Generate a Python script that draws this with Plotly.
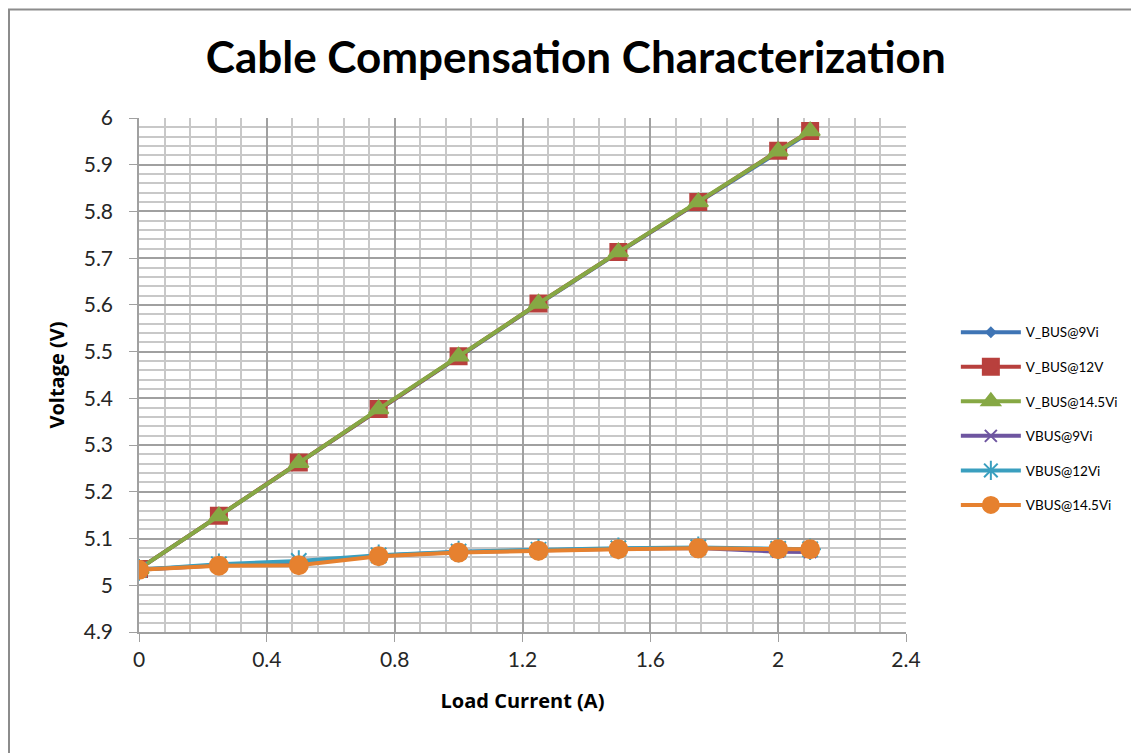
import plotly.graph_objects as go

load_current = [0, 0.25, 0.5, 0.75, 1.0, 1.25, 1.5, 1.75, 2.0, 2.1]

v_bus_9vi = [5.035, 5.148, 5.262, 5.376, 5.489, 5.602, 5.712, 5.819, 5.928, 5.970]
v_bus_12v = [5.035, 5.149, 5.263, 5.377, 5.490, 5.603, 5.713, 5.820, 5.930, 5.972]
v_bus_14_5vi = [5.035, 5.148, 5.262, 5.377, 5.490, 5.603, 5.713, 5.820, 5.929, 5.972]
vbus_9vi = [5.033, 5.043, 5.048, 5.063, 5.071, 5.075, 5.078, 5.080, 5.072, 5.071]
vbus_12vi = [5.033, 5.045, 5.052, 5.064, 5.072, 5.076, 5.079, 5.081, 5.078, 5.077]
vbus_14_5vi = [5.033, 5.042, 5.043, 5.062, 5.070, 5.074, 5.077, 5.079, 5.077, 5.077]

series_names = ["V_BUS@9Vi", "V_BUS@12V", "V_BUS@14.5Vi", "VBUS@9Vi", "VBUS@12Vi", "VBUS@14.5Vi"]
series_values = [v_bus_9vi, v_bus_12v, v_bus_14_5vi, vbus_9vi, vbus_12vi, vbus_14_5vi]
colors = ["#3F75B5", "#B8403D", "#86A844", "#6E55A0", "#3A9FBF", "#E6812F"]
symbols = ["diamond", "square", "triangle-up", "x-thin-open", "asterisk-open", "circle"]
sizes = [7, 16, 17, 12, 18, 18]

fig = go.Figure()
for i, (name, vals) in enumerate(zip(series_names, series_values)):
    fig.add_trace(go.Scatter(
        x=load_current, y=vals, name=name, mode="lines+markers",
        line=dict(color=colors[i], width=4),
        marker=dict(symbol=symbols[i], size=sizes[i], color=colors[i],
                    line=dict(color=colors[i], width=2)),
        legendgroup=name,
    ))

fig.update_layout(
    width=1131, height=745,
    margin=dict(l=131, r=233, t=110, b=121),
    paper_bgcolor="white", plot_bgcolor="white",
    title=dict(text="<b>Cable Compensation Characterization</b>",
               font=dict(family="Lato", size=44, color="black"),
               x=0.502, xref="container", xanchor="center",
               y=0.934, yref="container", yanchor="middle"),
    font=dict(family="Lato", color="black"),
    legend=dict(x=1.065, y=0.613, xanchor="left", yanchor="top",
                font=dict(size=13.5, family="Lato"), tracegroupgap=14,
                bgcolor="rgba(0,0,0,0)", itemwidth=60),
    showlegend=True,
    xaxis=dict(range=[0, 2.4], dtick=0.4, tick0=0, showgrid=True,
               gridcolor="#A0A0A0", gridwidth=1.5,
               minor=dict(dtick=0.08, tick0=0, showgrid=True, gridcolor="#C8C8C8", gridwidth=1.5),
               ticks="outside", ticklen=8, tickcolor="#A0A0A0",
               showline=True, linecolor="#A0A0A0", linewidth=1.5,
               tickfont=dict(size=21, family="Lato", color="#262626"), zeroline=False,
               title=dict(text="<b>Load Current (A)</b>", font=dict(size=20, family="Open Sans"), standoff=24)),
    yaxis=dict(range=[4.9, 6.0], dtick=0.1, tick0=4.9, showgrid=True,
               gridcolor="#A0A0A0", gridwidth=1.5,
               minor=dict(dtick=0.02, showgrid=True, gridcolor="#C8C8C8", gridwidth=1.5),
               ticks="outside", ticklen=8, tickcolor="#A0A0A0",
               showline=True, linecolor="#A0A0A0", linewidth=1.5, mirror=False,
               ticklabelstandoff=12,
               tickfont=dict(size=21, family="Lato", color="#262626"), zeroline=False,
               title=dict(text="<b>Voltage (V)</b>", font=dict(size=20, family="Open Sans"), standoff=14)),
    shapes=[dict(type="rect", xref="paper", yref="paper",
                 x0=-0.1695, x1=1.4, y0=-0.4, y1=1.211,
                 line=dict(color="#8C8C8C", width=2), fillcolor="rgba(0,0,0,0)", layer="below")],
)

fig.write_html("out.html")
